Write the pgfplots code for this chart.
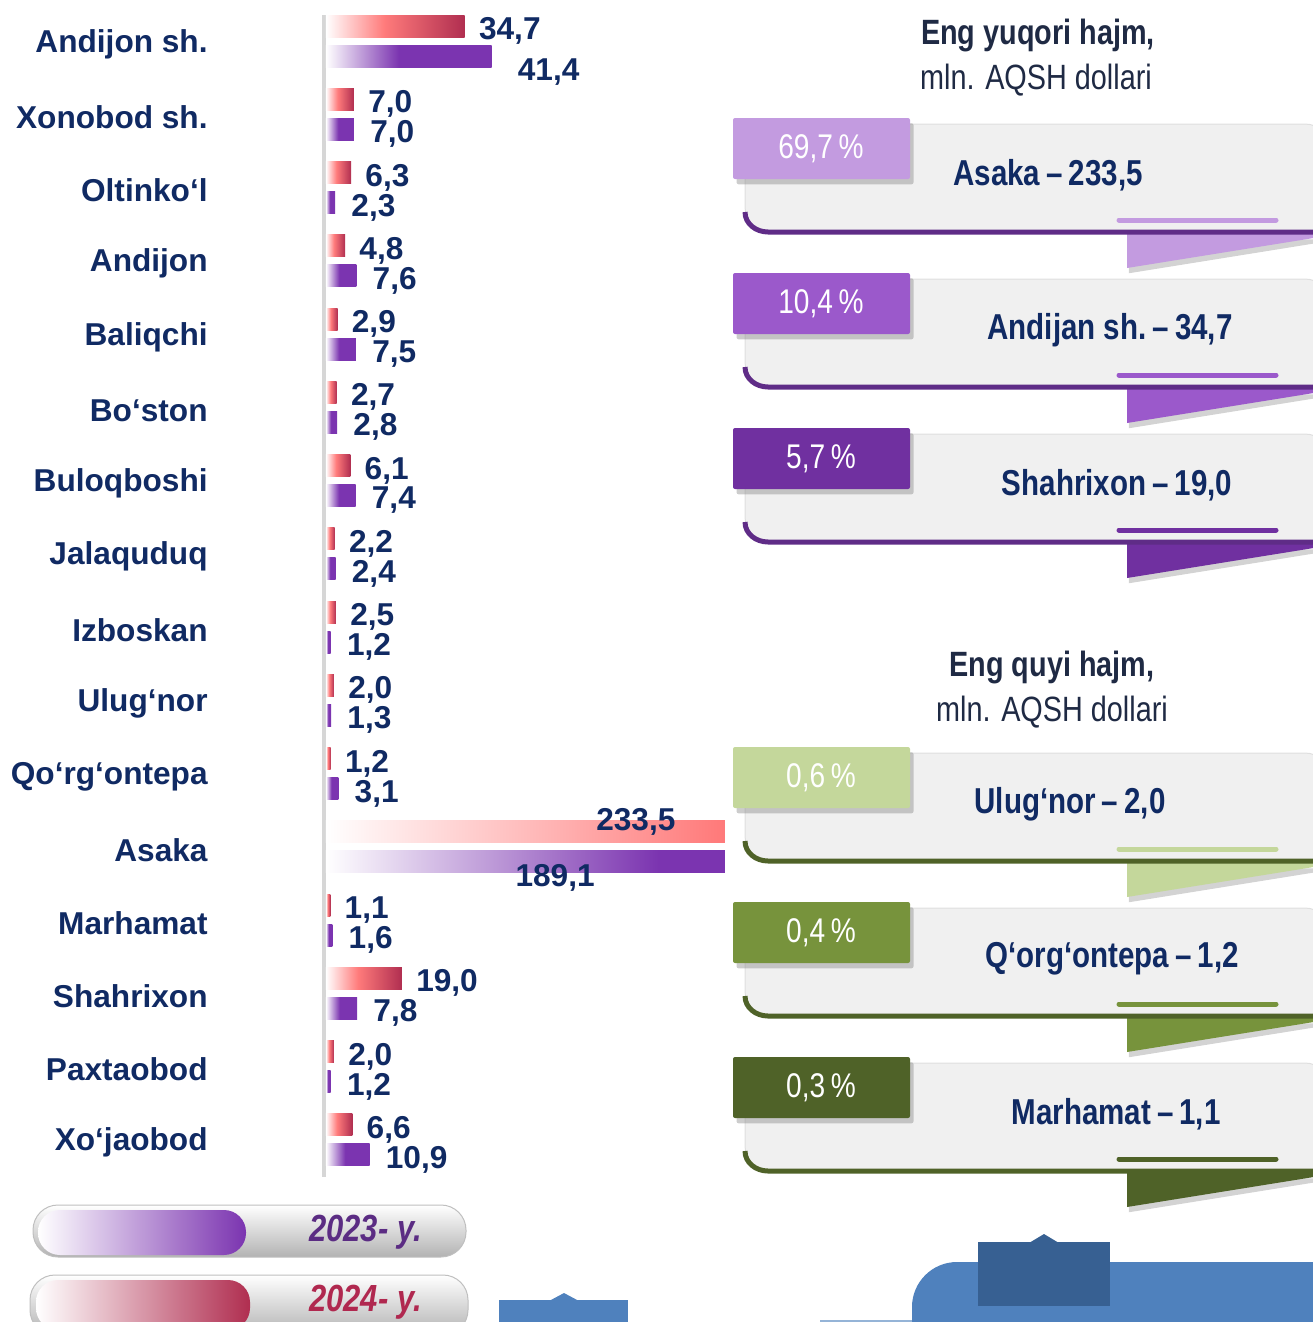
\documentclass[border=0pt]{standalone}
\usepackage{pgfplots}
\pgfplotsset{compat=1.18}
\usepackage{fontspec}
\setmainfont{Liberation Sans}
\newfontfamily\narrow[FakeStretch=0.82]{Liberation Sans}
\usetikzlibrary{shadows}
\definecolor{navy}{HTML}{102A63}
\definecolor{titlec}{HTML}{1F2A44}
\definecolor{redD}{HTML}{B02E50}
\definecolor{redM}{HTML}{FF7B7B}
\definecolor{purp}{HTML}{7B34B0}
\definecolor{axgray}{HTML}{D6D6D6}
\definecolor{cardgray}{HTML}{F0F0F0}
\definecolor{pA}{HTML}{C39BE0}
\definecolor{pB}{HTML}{9B59CB}
\definecolor{pC}{HTML}{7030A0}
\definecolor{pL}{HTML}{5F2C87}
\definecolor{gA}{HTML}{C4D79B}
\definecolor{gB}{HTML}{77933C}
\definecolor{gC}{HTML}{4F6228}
\definecolor{blueL}{HTML}{4F81BD}
\definecolor{blueD}{HTML}{376092}
\definecolor{legpurp}{HTML}{5B2C83}
\definecolor{legred}{HTML}{B0284F}

\pgfdeclarehorizontalshading{redsh}{100bp}{color(0bp)=(white); color(25bp)=(white); color(46bp)=(redM); color(75bp)=(redD); color(100bp)=(redD)}
\pgfdeclarehorizontalshading{pursh}{100bp}{color(0bp)=(white); color(25bp)=(white); color(47bp)=(purp); color(75bp)=(purp); color(100bp)=(purp)}

\newcommand\valfont{\fontsize{18}{20}\selectfont\bfseries}

\pgfplotsset{
  basebar/.style={xbar, bar width=0.44cm, bar shift=0pt, draw=none},
  redfill/.style={shade, shading=redsh, shading angle=0},
  purfill/.style={shade, shading=pursh, shading angle=0},
  lab/.style={point meta=explicit symbolic, nodes near coords,
    every node near coord/.append style={anchor=west, inner sep=0pt, xshift=#1, yshift=-0.1cm, font=\valfont, text=navy}},
  rb/.style={basebar, redfill, lab=0.28cm},
  pb/.style={basebar, purfill, lab=0.32cm},
}

% #1 tab top, #2 tab colour, #3 bottom line colour, #4 percent, #5 text, #6 text centre x
\newcommand\card[6]{%
  \fill[#2, drop shadow={shadow xshift=1pt, shadow yshift=-3pt, opacity=0.35}] (1127,{#1+116}) -- (1320,{#1+116}) -- (1320,{#1+119}) -- (1127,{#1+150}) -- cycle;
  \filldraw[fill=cardgray, draw=gray!25, line width=0.02cm, rounded corners=0.5cm] (745,{#1+6}) rectangle (1330,{#1+114});
  \draw[#3, line width=0.1cm] (745,{#1+94}) to[out=-90,in=180] (768,{#1+114}) -- (1320,{#1+114});
  \draw[#2, line width=0.1cm, line cap=round] (1119,{#1+102}) -- (1276,{#1+102});
  \fill[#2, rounded corners=0.04cm, drop shadow={shadow xshift=2pt, shadow yshift=-3pt, opacity=0.4}] (733,#1) rectangle (910,{#1+61});
  \node[text=white, font=\narrow\fontsize{19.5}{21}\selectfont] at (821,{#1+31}) {#4};
  \node[text=navy, font=\narrow\bfseries\fontsize{20.5}{22}\selectfont] at (#6,{#1+57}) {#5};
}

\begin{document}
\begin{tikzpicture}[x=0.02cm, y=-0.02cm]
% axis line
\fill[axgray] (322,15) rectangle (326,1177);
\begin{axis}[
  at={(6.52cm,-0.088cm)}, anchor=north west,
  width=7.98cm, height=23.444cm, scale only axis,
  xmin=0, xmax=99.75, ymin=-0.5, ymax=15.5, y dir=reverse,
  axis line style={draw=none}, xtick=\empty,
  ytick={0,...,15},
  yticklabels={Andijon sh., Xonobod sh., Oltinko‘l, Andijon, Baliqchi, Bo‘ston, Buloqboshi, Jalaquduq, Izboskan, Ulug‘nor, Qo‘rg‘ontepa, Asaka, Marhamat, Shahrixon, Paxtaobod, Xo‘jaobod},
  major tick length=0pt,
  yticklabel style={anchor=east, inner sep=0pt, xshift=-2.36cm, yshift=-0.06cm, font=\valfont, text=navy},
  clip=true,
]
% 2024 (red)
\addplot[rb] coordinates {(34.7,-0.205) [34,7]};
\addplot[rb] coordinates {(7.0,0.795) [7,0]};
\addplot[rb] coordinates {(6.3,1.795) [6,3]};
\addplot[rb] coordinates {(4.8,2.795) [4,8]};
\addplot[rb] coordinates {(2.9,3.795) [2,9]};
\addplot[rb] coordinates {(2.7,4.795) [2,7]};
\addplot[rb] coordinates {(6.1,5.795) [6,1]};
\addplot[rb] coordinates {(2.2,6.795) [2,2]};
\addplot[rb] coordinates {(2.5,7.795) [2,5]};
\addplot[rb] coordinates {(2.0,8.795) [2,0]};
\addplot[rb] coordinates {(1.2,9.795) [1,2]};
\addplot[basebar, redfill] coordinates {(233.5,10.795)};
\addplot[rb] coordinates {(1.1,11.795) [1,1]};
\addplot[rb] coordinates {(19.0,12.795) [19,0]};
\addplot[rb] coordinates {(2.0,13.795) [2,0]};
\addplot[rb] coordinates {(6.6,14.795) [6,6]};
% 2023 (purple)
\addplot[basebar, purfill, lab=0.52cm, every node near coord/.append style={yshift=-0.22cm}] coordinates {(41.4,0.205) [41,4]};
\addplot[pb] coordinates {(7.0,1.205) [7,0]};
\addplot[pb] coordinates {(2.3,2.205) [2,3]};
\addplot[pb] coordinates {(7.6,3.205) [7,6]};
\addplot[pb] coordinates {(7.5,4.205) [7,5]};
\addplot[pb] coordinates {(2.8,5.205) [2,8]};
\addplot[pb] coordinates {(7.4,6.205) [7,4]};
\addplot[pb] coordinates {(2.4,7.205) [2,4]};
\addplot[pb] coordinates {(1.2,8.205) [1,2]};
\addplot[pb] coordinates {(1.3,9.205) [1,3]};
\addplot[pb] coordinates {(3.1,10.205) [3,1]};
\addplot[basebar, purfill] coordinates {(189.1,11.205)};
\addplot[pb] coordinates {(1.6,12.205) [1,6]};
\addplot[pb] coordinates {(7.8,13.205) [7,8]};
\addplot[pb] coordinates {(1.2,14.205) [1,2]};
\addplot[pb] coordinates {(10.9,15.205) [10,9]};
\node[font=\valfont, text=navy] at (axis cs:77.5,10.66) {233,5};
\node[font=\valfont, text=navy] at (axis cs:57.3,11.42) {189,1};
\end{axis}

% titles
\node[font=\narrow\bfseries\fontsize{20}{22}\selectfont, text=titlec] at (1038,35) {Eng yuqori hajm,};
\node[font=\narrow\fontsize{20}{22}\selectfont, text=titlec] at (1036,80) {mln. AQSH dollari};
\node[font=\narrow\bfseries\fontsize{20}{22}\selectfont, text=titlec] at (1052,667) {Eng quyi hajm,};
\node[font=\narrow\fontsize{20}{22}\selectfont, text=titlec] at (1052,712) {mln. AQSH dollari};

\card{118}{pA}{pL}{69,7\,\%}{Asaka\,–\,233,5}{1048}
\card{273}{pB}{pL}{10,4\,\%}{Andijan sh.\,–\,34,7}{1110}
\card{428}{pC}{pL}{5,7\,\%}{Shahrixon\,–\,19,0}{1117}
\card{747}{gA}{gC}{0,6\,\%}{Ulug‘nor\,–\,2,0}{1070}
\card{902}{gB}{gC}{0,4\,\%}{Q‘org‘ontepa\,–\,1,2}{1112}
\card{1057}{gC}{gC}{0,3\,\%}{Marhamat\,–\,1,1}{1116}

% legend pills
\shade[top color=white, middle color=gray!15, bottom color=gray!60, rounded corners=0.5cm] (33,1205) rectangle (466,1257);
\draw[gray!50, line width=0.02cm, rounded corners=0.5cm] (33,1205) rectangle (466,1257);
\shade[left color=white, right color=purp, rounded corners=0.44cm] (38,1210) rectangle (246,1255);
\node[anchor=east, text=legpurp, font=\narrow\bfseries\itshape\fontsize{21.5}{23}\selectfont] at (428,1232) {2023- y.};

\shade[top color=white, middle color=gray!15, bottom color=gray!60, rounded corners=0.5cm] (30,1275) rectangle (468,1335);
\draw[gray!50, line width=0.02cm, rounded corners=0.5cm] (30,1275) rectangle (468,1335);
\shade[left color=white, right color=redD, rounded corners=0.44cm] (36,1280) rectangle (250,1330);
\node[anchor=east, text=legred, font=\narrow\bfseries\itshape\fontsize{21.5}{23}\selectfont] at (428,1302) {2024- y.};

% blue decorations
\fill[blueL, rounded corners=0.9cm] (912,1262) rectangle (1370,1390);
\fill[blueD] (978,1242) rectangle (1110,1306);
\fill[blueD] (1029,1243) -- (1044,1234) -- (1059,1243) -- cycle;
\fill[blueL] (499,1300) rectangle (628,1340);
\fill[blueL] (549,1301) -- (564,1293) -- (579,1301) -- cycle;
\draw[blueL!60, line width=0.04cm] (820,1321) -- (912,1321);

\pgfresetboundingbox
\path[use as bounding box] (0,0) rectangle (1312,1322);
\end{tikzpicture}
\end{document}
